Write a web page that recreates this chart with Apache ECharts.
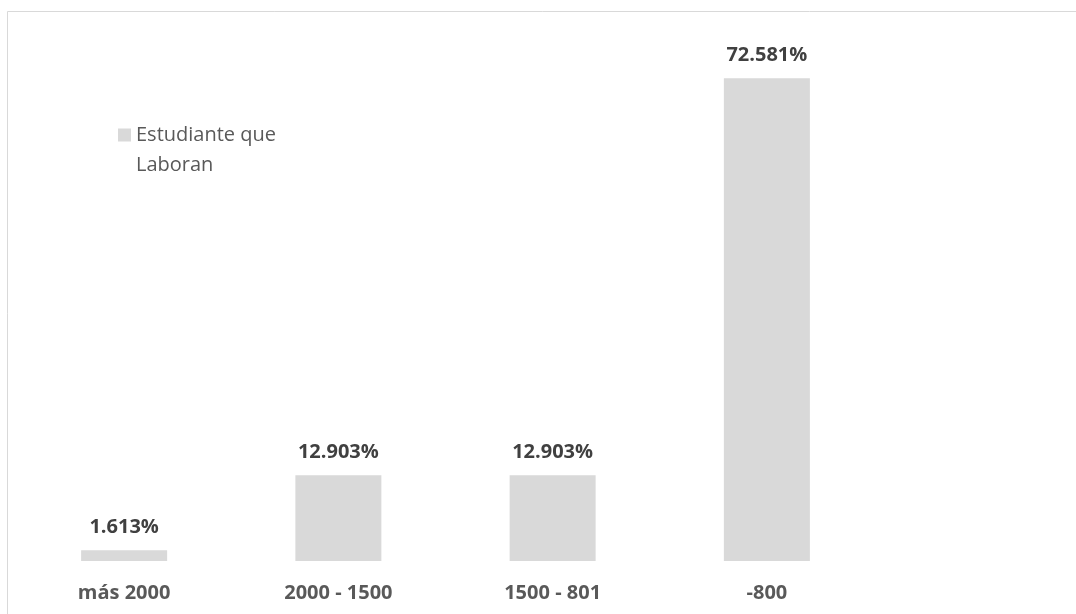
<!DOCTYPE html>
<html>
<head>
<meta charset="utf-8">
<script src="https://cdn.jsdelivr.net/npm/echarts@6/dist/echarts.min.js"></script>
<style>
  html, body { margin: 0; padding: 0; background: #ffffff; }
  #chart { width: 1076px; height: 614px; }
</style>
</head>
<body>
<div id="chart"></div>
<script>
// Income ranges of working students and their share (%)
const categories = ['más 2000', '2000 - 1500', '1500 - 801', '-800'];
const shares = [1.613, 12.903, 12.903, 72.581];
const seriesName = 'Estudiante que Laboran';

const chart = echarts.init(document.getElementById('chart'));
const font = '"Open Sans", "Liberation Sans", sans-serif';

chart.setOption({
  backgroundColor: '#ffffff',
  animation: false,
  graphic: [{
    type: 'rect',
    shape: { x: 7.5, y: 11.5, width: 1100, height: 700 },
    style: { fill: 'none', stroke: '#d9d9d9', lineWidth: 1 },
    silent: true,
    z: -10
  }],
  grid: { left: 17, width: 857, top: 29, bottom: 53 },
  legend: {
    left: 113,
    top: 85,
    itemWidth: 13,
    itemHeight: 13,
    icon: 'rect',
    // leading blank line keeps the swatch level with the first text line
    formatter: () => '\nEstudiante que\nLaboran',
    textStyle: {
      fontFamily: font,
      fontSize: 20,
      color: '#595959',
      lineHeight: 30
    }
  },
  xAxis: {
    type: 'category',
    data: categories,
    axisLine: { show: false },
    axisTick: { show: false },
    axisLabel: {
      margin: 22,
      fontFamily: font,
      fontSize: 20,
      fontWeight: 'bold',
      color: '#595959'
    }
  },
  yAxis: {
    type: 'value',
    min: 0,
    max: 80,
    show: false,
    splitLine: { show: false }
  },
  series: [{
    name: seriesName,
    type: 'bar',
    data: shares,
    barWidth: 86,
    itemStyle: { color: '#d9d9d9' },
    label: {
      show: true,
      position: 'top',
      distance: 13,
      formatter: p => p.value.toFixed(3) + '%',
      fontFamily: font,
      fontSize: 20,
      fontWeight: 'bold',
      color: '#404040'
    }
  }]
});
</script>
</body>
</html>
